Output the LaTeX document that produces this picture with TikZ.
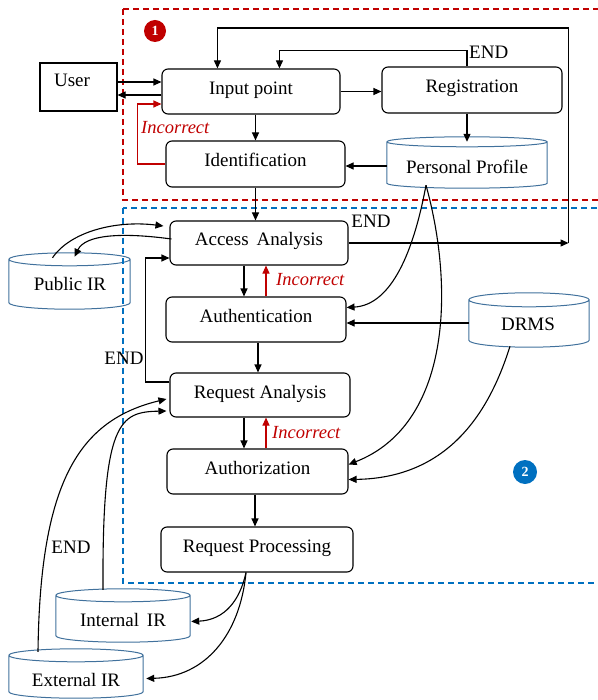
\documentclass[tikz,border=0pt]{standalone}
\usepackage{fontspec}
\setmainfont{Liberation Serif}
\usetikzlibrary{arrows.meta,calc}
\definecolor{dred}{RGB}{192,0,0}
\definecolor{dblue}{RGB}{0,112,192}
\definecolor{cylblue}{RGB}{65,113,156}
\newcommand{\drawcyl}[2]{%
  \draw[cyl] let \p1=(#1.north west), \p2=(#1.south east), \n1={(\x2-\x1)/2} in
    (\x1,\y1-#2pt) -- (\x1,\y2+#2pt)
    arc[start angle=180,end angle=360,x radius={\n1*1pt},y radius=#2pt]
    -- (\x2,\y1-#2pt)
    arc[start angle=0,end angle=180,x radius={\n1*1pt},y radius=#2pt]
    (\x1,\y1-#2pt)
    arc[start angle=180,end angle=360,x radius={\n1*1pt},y radius=#2pt];
}
\begin{document}
\begin{tikzpicture}[x=1pt,y=1pt,
  every node/.style={font=\fontsize{19}{21}\selectfont},
  box/.style={draw, line width=1.1pt, rounded corners=6pt, fill=white, inner sep=0pt, text height=12pt, text depth=6pt},
  cylbox/.style={inner sep=0pt},
  cyl/.style={draw=cylblue, line width=1pt},
  arr/.style={-{Triangle[length=8pt,width=7pt]}, line width=1.1pt},
  redarr/.style={arr, draw=dred},
  inc/.style={font=\itshape\fontsize{18.5}{20}\selectfont, text=dred, inner sep=0pt},
  endlbl/.style={inner sep=0pt},
  reddash/.style={draw=dred, line width=1.2pt, dash pattern=on 6pt off 4pt},
  bluedash/.style={draw=dblue, line width=1.2pt, dash pattern=on 6pt off 4pt},
  numc/.style={circle, text=white, inner sep=0pt, font=\bfseries\fontsize{14}{14}\selectfont}
]
\useasboundingbox (0,0) rectangle (597,-700);

% boxes
\node[draw, line width=1.1pt, minimum width=77pt, minimum height=48pt, inner sep=0pt] (user) at (78.5,-87) {};
\node (usert) at (72,-80) {User};
\node[box, minimum width=178pt, minimum height=45pt] (inp) at (251,-91.5) {Input point};
\node[box, minimum width=180pt, minimum height=46pt] (reg) at (472,-90) {Registration};
\node[box, minimum width=179pt, minimum height=46pt] (idf) at (255.5,-164) {Identification};
\node[box, minimum width=178pt, minimum height=44pt] (aa) at (259,-243) {Access\, Analysis};
\node[box, minimum width=180pt, minimum height=45pt] (auth) at (256,-319.5) {Authentication};
\node[box, minimum width=180pt, minimum height=44pt] (ra) at (260,-395) {Request Analysis};
\node[box, minimum width=181pt, minimum height=45pt] (authz) at (257.5,-471.5) {Authorization};
\node[box, minimum width=192pt, minimum height=45pt] (rp) at (257,-549.5) {Request Processing};

% cylinders
\node[cylbox, minimum width=160pt, minimum height=51pt] (pp) at (467,-162.5) {};
\drawcyl{pp}{5}
\node (ppt) at (467,-167) {Personal Profile};
\node[cylbox, minimum width=121pt, minimum height=56pt] (pub) at (69.5,-281) {};
\drawcyl{pub}{6.5}
\node (pubt) at (70,-284) {Public IR};
\node[cylbox, minimum width=120pt, minimum height=54pt] (drms) at (529,-320) {};
\drawcyl{drms}{7}
\node (drmst) at (528,-324) {DRMS};
\node[cylbox, minimum width=134pt, minimum height=53pt] (intir) at (123,-615.5) {};
\drawcyl{intir}{6.5}
\node (intirt) at (123,-620) {Internal\, IR};
\node[cylbox, minimum width=134pt, minimum height=49pt] (extir) at (76,-673.5) {};
\drawcyl{extir}{6.5}
\node (extirt) at (76,-680) {External IR};

% dashed regions
\draw[reddash] (123,-9) rectangle (610,-200);
\draw[bluedash] (123,-208) rectangle (610,-583);
\node[numc, fill=dred, minimum size=22pt] (n1) at (155,-31) {1};
\node[numc, fill=dblue, minimum size=24pt] (n2) at (525,-472) {2};

% connectors top
\coordinate (u1) at ($(user.east)+(0,5)$);
\draw[arr] (u1) -- (u1 -| inp.west);
\coordinate (u2) at ($(user.east)+(0,-8)$);
\draw[arr] (u2 -| inp.west) -- (u2);
\coordinate (r1) at ($(inp.west)+(0,-12.5)$);
\draw[redarr] (idf.west) -- ++(-28,0) |- (r1);
\node[inc, anchor=west] (inc1) at (141,-128) {Incorrect};
\draw[arr] (idf.north |- inp.south) -- (idf.north);
\draw[arr] (inp.east) -- (inp.east -| reg.west);
\coordinate (pptop) at ($(pp.north)+(0,-5)$);
\draw[arr] (reg.south -| pptop) -- (pptop);
\coordinate (p1) at ($(pp.west)+(0,-3.5)$);
\draw[arr] (p1) -- (p1 -| idf.east);

\coordinate (bl) at ($(aa.east)+(220,0)$);
\draw[arr] (aa.east) -- (bl);
\coordinate (bltop) at ($(bl)+(0,215)$);
\coordinate (inpa) at ($(inp.north west)+(56,0)$);
\draw[arr] (bl) -- (bltop) -| (inpa);
\node[endlbl] (end1) at (371,-221) {END};

\coordinate (rtop) at ($(pp.north)+(0,86)$);
\coordinate (inpb) at ($(inp.north west)+(118,0)$);
\draw[arr] (reg.north -| rtop) -- (rtop) -| (inpb);
\node[endlbl, anchor=west] (end2) at (469,-52) {END};

\draw[arr] (idf.south) -- (idf.south |- aa.north);

% personal profile / DRMS curves
\coordinate (ppb) at ($(pp.south)+(-41,3)$);
\draw[arr] (ppb) .. controls (414,-250) and (392,-305) .. ($(auth.east)+(0,12)$);
\draw[arr] (ppb) .. controls (455,-290) and (450,-425) .. ($(authz.east)+(0,7)$);
\coordinate (drb) at ($(drms.south)+(-19,1)$);
\draw[arr] (drb) .. controls (490,-410) and (450,-478) .. ($(authz.east)+(0,-8)$);
\coordinate (dr1) at ($(drms.west)+(0,-3)$);
\draw[arr] (dr1) -- (dr1 -| auth.east);

% public IR
\draw[arr] ($(aa.west)+(2,4)$) .. controls (120,-232) and (85,-235) .. ($(pub.north)+(5,-4)$);
\draw[arr] ($(pub.north)+(-17,-5)$) .. controls (70,-232) and (115,-220) .. ($(aa.west)+(-6,17)$);

% vertical chain
\coordinate (a1) at ($(aa.south)+(-15,0)$);
\draw[arr] (a1) -- (a1 |- auth.north);
\coordinate (a2) at ($(aa.south)+(7,0)$);
\draw[redarr] (a2 |- auth.north) -- (a2);
\node[inc, anchor=west] (inc2) at (276,-280) {Incorrect};
\coordinate (a3) at ($(auth.south)+(2,0)$);
\draw[arr] (a3) -- (a3 |- ra.north);
\coordinate (a4) at ($(ra.south)+(-16,0)$);
\draw[arr] (a4) -- (a4 |- authz.north);
\coordinate (a5) at ($(ra.south)+(6,0)$);
\draw[redarr] (a5 |- authz.north) -- (a5);
\node[inc, anchor=west] (inc3) at (272,-433) {Incorrect};
\coordinate (a6) at ($(authz.south)+(-2.5,0)$);
\draw[arr] (a6) -- (a6 |- rp.north);

% END loop from request analysis
\coordinate (e1) at ($(ra.west)+(0,13)$);
\draw[arr] (e1) -- ++(-24,0) |- ($(aa.west)+(0,-15)$);
\node[endlbl] (end3) at (124,-358) {END};

% request processing to IRs
\coordinate (rpb) at ($(rp.south)+(-11,0)$);
\draw[arr] (rpb) .. controls (240,-600) and (225,-620) .. ($(intir.east)+(1,-6)$);
\draw[arr] (rpb) .. controls (240,-635) and (205,-677) .. ($(extir.east)+(3,-5)$);

% IRs to request analysis
\draw[arr] ($(extir.north)+(-38,-3)$) .. controls (40,-480) and (80,-420) .. ($(ra.west)+(-3,-4)$);
\draw[arr] ($(intir.north)+(-20,-1)$) .. controls (102,-420) and (120,-412) .. ($(ra.west)+(-3,-16)$);
\node[endlbl] (end4) at (71,-547) {END};
\end{tikzpicture}
\end{document}
